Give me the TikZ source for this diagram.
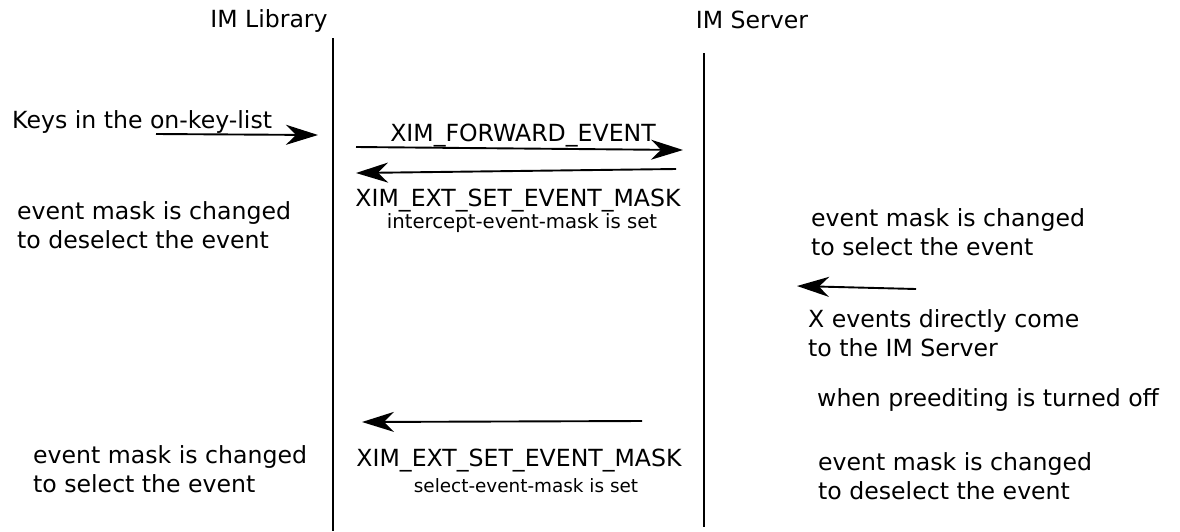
\documentclass[tikz,border=0pt]{standalone}
\usepackage{fontspec}
\setmainfont{DejaVu Sans}
\usetikzlibrary{arrows.meta}
\newcommand{\twolines}[2]{\begin{tabular}[t]{@{}l@{}}#1\\#2\end{tabular}}
\begin{document}
\begin{tikzpicture}[x=1pt,y=-1pt,
  big/.style={font=\fontsize{23.6}{29.5}\selectfont, inner sep=0pt, anchor=base west},
  bigc/.style={font=\fontsize{23.6}{29.5}\selectfont, inner sep=0pt, anchor=base},
  life/.style={line width=1.8pt},
  msg/.style={line width=1.9pt, -{Stealth[length=32pt,width=20pt,inset=10pt]}}]
\useasboundingbox (0,0) rectangle (1180,531);
% lifelines
\coordinate (libtop) at (333,38);
\coordinate (libbot) at (333,531);
\coordinate (srvtop) at (704,53);
\coordinate (srvbot) at (704,527);
\draw[life] (libtop) -- (libbot);
\draw[life] (srvtop) -- (srvbot);
% titles
\node[bigc] (libtitle) at (269,27) {IM Library};
\node[bigc] (srvtitle) at (752,28) {IM Server};
% keys
\node[big] (keys) at (12,128) {Keys in the on-key-list};
\coordinate (k1) at (156,134);
\coordinate (k2) at (318,135);
\draw[msg] (k1) -- (k2);
% forward event
\node[bigc] (fwdlab) at (523,141) {XIM\_FORWARD\_EVENT};
\coordinate (f1) at (356,147);
\coordinate (f2) at (683,150);
\draw[msg] (f1) -- (f2);
% ext set event mask 1
\coordinate (r1a) at (676,169);
\coordinate (r1b) at (356,173);
\draw[msg] (r1a) -- (r1b);
\node[bigc] (ext1) at (518,206) {XIM\_EXT\_SET\_EVENT\_MASK};
\node[font=\fontsize{19.7}{24}\selectfont, inner sep=0pt, anchor=base] (ext1s) at (522,228) {intercept-event-mask is set};
% left top
\node[big] (lefttop) at (17,219) {\twolines{event mask is changed}{to deselect the event}};
% right top
\node[big] (righttop) at (811,226) {\twolines{event mask is changed}{to select the event}};
\coordinate (x1) at (916,289);
\coordinate (x2) at (797,286);
\draw[msg] (x1) -- (x2);
\node[big] (xev) at (808,327) {\twolines{X events directly come}{to the IM Server}};
\node[big] (preedit) at (817,406) {when preediting is turned off};
% ext set event mask 2
\coordinate (r2a) at (642,421);
\coordinate (r2b) at (362,422);
\draw[msg] (r2a) -- (r2b);
\node[bigc] (ext2) at (519,466) {XIM\_EXT\_SET\_EVENT\_MASK};
\node[font=\fontsize{18.4}{22}\selectfont, inner sep=0pt, anchor=base] (ext2s) at (526,492) {select-event-mask is set};
% bottom texts
\node[big] (leftbot) at (33,463) {\twolines{event mask is changed}{to select the event}};
\node[big] (rightbot) at (818,470) {\twolines{event mask is changed}{to deselect the event}};
\end{tikzpicture}
\end{document}
